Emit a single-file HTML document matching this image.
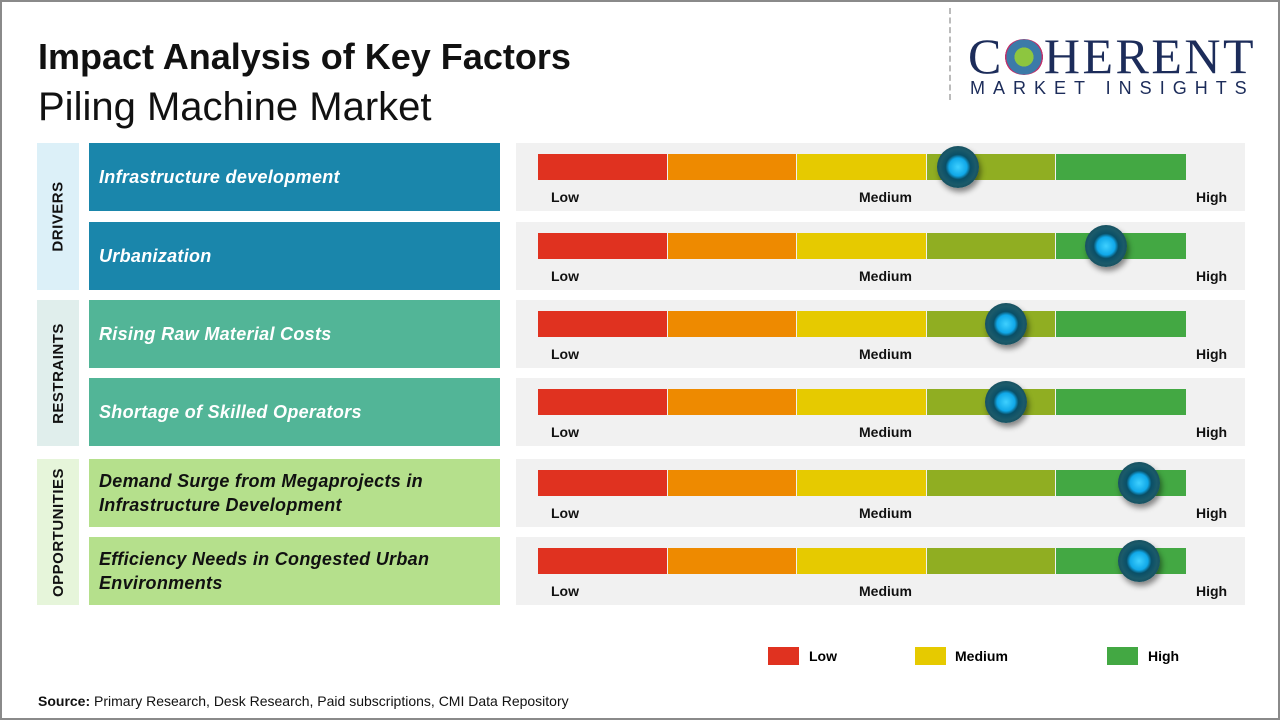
<!DOCTYPE html><html><head><meta charset="utf-8"><style>
*{margin:0;padding:0;box-sizing:border-box}
body{width:1280px;height:720px;position:relative;background:#fff;font-family:"Liberation Sans",sans-serif;overflow:hidden}
.a{position:absolute}
.cat{position:absolute;left:37px;width:42px;display:flex;align-items:center;justify-content:center}
.cat span{transform:rotate(-90deg);white-space:nowrap;font-weight:bold;font-size:15px;color:#111;letter-spacing:.5px}
.lab{position:absolute;left:89px;width:411px;height:68px;display:flex;align-items:center;padding-left:10px;color:#fff;font-weight:bold;font-style:italic;font-size:18px;letter-spacing:.3px;line-height:24px}
.panel{position:absolute;left:516px;width:729px;height:68px;background:#f1f1f1}
.seg{position:absolute;top:11px;height:26px;width:129px}
.t{position:absolute;top:46px;font-size:14px;font-weight:bold;color:#111}
.knob{position:absolute;width:42px;height:42px;border-radius:50%;background:radial-gradient(circle at 50% 50%,#3fd0ff 0,#10a8e8 30%,#0a4f66 42%,#1b5a6a 60%,#0d3a48 100%);box-shadow:2px 4px 6px rgba(0,0,0,.45)}
</style></head><body>
<div class="a" style="left:0;top:0;width:1280px;height:720px;border:2px solid #8a8a8a"></div>
<div class="a" style="left:38px;top:36px;font-size:36px;font-weight:bold;color:#111">Impact Analysis of Key Factors</div>
<div class="a" style="left:38px;top:85px;font-size:40px;color:#111">Piling Machine Market</div>
<div class="a" style="left:949px;top:8px;height:92px;border-left:2px dashed #bbb"></div>
<div class="a" style="left:968px;top:27px;font-family:'Liberation Serif',serif;font-size:50px;color:#1c2c5a;letter-spacing:2.5px">C<span style="display:inline-block;width:40px;height:36px;vertical-align:-2px;border-radius:50%;background:radial-gradient(circle,#8dc63f 0 35%,#3c7aa8 36% 65%,#c0306a 66% 70%,transparent 71%)"></span>HERENT</div>
<div class="a" style="left:970px;top:78px;font-size:18px;color:#1c2c5a;letter-spacing:8px">MARKET INSIGHTS</div>

<div class="cat" style="top:143px;height:147px;background:#dcf0f8"><span>DRIVERS</span></div>
<div class="cat" style="top:300px;height:146px;background:#e0eeec"><span>RESTRAINTS</span></div>
<div class="cat" style="top:459px;height:146px;background:#e6f5da"><span>OPPORTUNITIES</span></div>

<div class="lab" style="top:143px;background:#1a86ab">Infrastructure development</div>
<div class="lab" style="top:222px;background:#1a86ab">Urbanization</div>
<div class="lab" style="top:300px;background:#52b597">Rising Raw Material Costs</div>
<div class="lab" style="top:378px;background:#52b597">Shortage of Skilled Operators</div>
<div class="lab" style="top:459px;background:#b5e08c;color:#111">Demand Surge from Megaprojects in Infrastructure Development</div>
<div class="lab" style="top:537px;background:#b5e08c;color:#111">Efficiency Needs in Congested Urban Environments</div>

<div id="rows"></div>
<script>
var tops=[143,222,300,378,459,537],kx=[958,1106,1006,1006,1139,1139];
var cols=['#e03220','#ee8a00','#e6ca00','#90ae22','#43a843'];
var h='';
tops.forEach(function(t,i){
h+='<div class="panel" style="top:'+t+'px">';
cols.forEach(function(c,j){h+='<div class="seg" style="left:'+(22+j*129.6)+'px;width:'+(j<4?128.6:129.6)+'px;background:'+c+'"></div>';});
h+='<div class="t" style="left:35px">Low</div><div class="t" style="left:343px">Medium</div><div class="t" style="left:680px">High</div>';
h+='<div class="knob" style="left:'+(kx[i]-516-21)+'px;top:3px"></div></div>';
});
document.getElementById('rows').innerHTML=h;
</script>
<div class="a" style="left:768px;top:647px;width:31px;height:18px;background:#e03220"></div>
<div class="a" style="left:809px;top:648px;font-size:14px;font-weight:bold">Low</div>
<div class="a" style="left:915px;top:647px;width:31px;height:18px;background:#e6ca00"></div>
<div class="a" style="left:955px;top:648px;font-size:14px;font-weight:bold">Medium</div>
<div class="a" style="left:1107px;top:647px;width:31px;height:18px;background:#43a843"></div>
<div class="a" style="left:1148px;top:648px;font-size:14px;font-weight:bold">High</div>
<div class="a" style="left:38px;top:693px;font-size:14px;color:#111"><b>Source:</b> Primary Research, Desk Research, Paid subscriptions, CMI Data Repository</div>
</body></html>
